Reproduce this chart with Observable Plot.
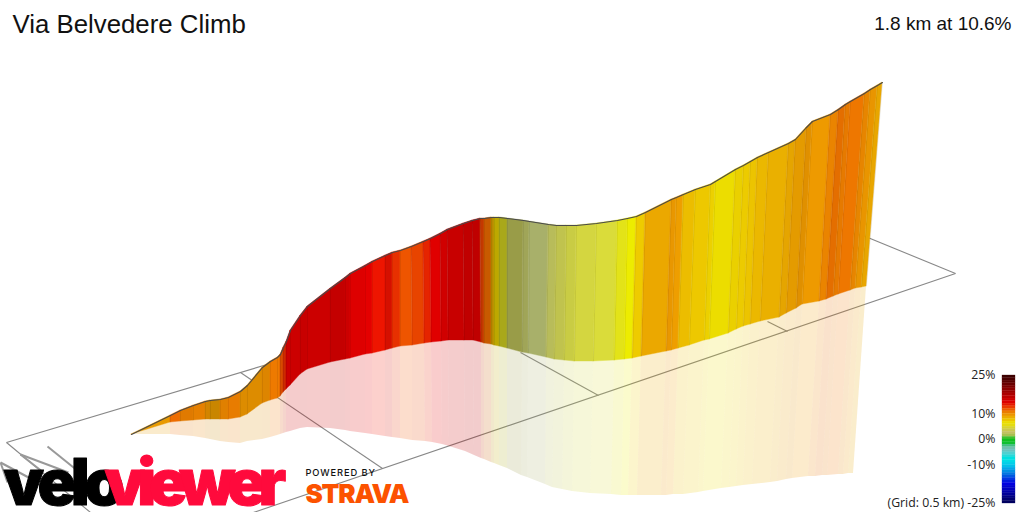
<!DOCTYPE html>
<html>
<head>
<meta charset="utf-8">
<script src="https://cdn.jsdelivr.net/npm/d3@7"></script>
<script src="https://cdn.jsdelivr.net/npm/@observablehq/plot@0.6"></script>
<style>
html,body{margin:0;padding:0;background:#fff;overflow:hidden}
.logo-a text{letter-spacing:-5.5px}
.logo-b text{letter-spacing:-7.6px}
.powered text{letter-spacing:0.9px}
.strava text{letter-spacing:-1.2px}
</style>
</head>
<body>
<div id="chart"></div>
<script>
const title = "Via Belvedere Climb";
const summary = "1.8 km at 10.6%";

// profile stations: ridge line, road foot, reflection foot
const topX = [131,170,180,193,205,210,220,228,240,247,262,270,277,280,283,286,290,300,307,330,345,350,365,372,385,392,400,411,423,430,440,447,463,472,480,484,491,494,499,507,523,529,548,556,566,576,596,617,627,636,645,671,676,683,695,710,715,735,743,750,757,768,788,795,806,812,830,838,845,850,864,870,877,882];
const topY = [434,415,410,405,401,400,399,397,391,385,367,361,357,354,347,341,330,315,306,288,277,273,265,261,255,252,250,246,241,238,233,229,223,220,218,218,217,217,217,218,220,221,224,225,225,225,223,220,218,216,212,199,197,194,189,184,181,169,165,161,157,152,143,139,127,121,114,109,104,101,93,89,85,82];
const baseX = [131,170,180,193,205,210,220,228,240,247,262,270,277,280,283,286,290,300,307,330,345,350,365,372,385,392,400,412,424,431,441,448,464,473,481,484,491,494,499,507,522,528,546,554,564,574,593,614,624,632,641,666,671,678,689,704,709,728,736,743,750,760,779,786,796,802,819,826,833,838,850,855,861,866];
const baseY = [434,422,421,420,419,419,419,419,417,414,403,400,398,396,392,389,385,374,369,362,359,358,354,353,350,348,346,345,343,342,341,340,340,340,342,343,344,345,346,348,352,353,357,359,360,361,361,360,359,358,356,351,350,348,345,340,339,333,329,326,324,321,317,313,308,304,301,299,296,294,290,288,287,286];
const reflX = [131,170,180,193,205,210,220,228,240,247,262,270,277,280,283,286,290,300,307,330,345,350,365,372,385,392,400,412,425,432,442,449,465,474,481,484,491,494,499,507,521,527,545,552,562,572,590,611,621,628,637,661,666,673,683,698,703,721,729,736,743,752,770,777,786,792,808,815,822,827,838,843,848,853];
const reflY = [434,434,435,436,438,439,441,442,443,441,439,437,435,434,433,432,431,428,427,428,430,431,433,434,436,437,438,440,441,442,444,446,451,455,458,459,462,463,465,468,475,477,484,487,489,491,493,494,495,495,495,495,495,494,494,492,491,488,487,486,485,484,482,481,479,478,476,476,475,475,474,474,473,473];
const bandColor = ["#e89b00","#ee6c00","#e07a00","#e68000","#d38400","#c98600","#e08000","#e87c00","#dd8c00","#dd8c00","#dd8500","#ee7a00","#ee7a00","#d74b00","#cc2a00","#cc0000","#cc0000","#c80000","#cc0000","#c40000","#cc0000","#de0000","#e40000","#ee1500","#d51000","#e73000","#ee5500","#e84400","#e52400","#e00000","#d00000","#c80000","#c00000","#bf0000","#c43800","#c85a00","#b88a00","#bda800","#a9a81a","#999c48","#a0a558","#a8b06a","#b8bc5a","#c0c34e","#c9cc44","#d4d640","#dadc3a","#e3e318","#edec00","#eecb00","#eba800","#e99700","#ee9e00","#ecbd00","#edc800","#ecd000","#ecdd00","#ead000","#eccb00","#ecc400","#ebb800","#eab000","#e5a500","#e49b00","#e09000","#ee9a00","#ea8400","#e46e00","#e67a00","#ee7700","#e78500","#e99500","#e8a600"];

// ground grid lines
const gridX1 = [6,6,955,955,240,520,767];
const gridY1 = [442,442,273,273,372,352,321];
const gridX2 = [270,90,860,250,382,598,787];
const gridY2 = [363,512,234,513,468,395,331];
const stubX1 = [47,20,20,0,0];
const stubY1 = [446,454,454,462,462];
const stubX2 = [83,68,43,30,7];
const stubY2 = [475,472,472,478,482];

// gradient legend, one cell per percent from 25 down to -24
const legendTop = 25;
const legendColor = ["#3c0000","#4a0000","#5a0000","#6a0000","#7c0000","#8c0000","#9c0000","#ac0000","#bc0000","#cc0000","#dc0000","#e41800","#ea3a00","#ec5c00","#ec7c00","#ec9400","#ecac00","#ecc400","#ecdc00","#e4dc10","#d8d430","#ccc850","#c4c060","#a8c050","#40c030","#10c020","#10c030","#40c080","#70c0b0","#68c4c0","#50d0d0","#28d8d8","#00e0e0","#00dce4","#00d0e8","#00c0e8","#00a8e8","#0090e4","#0078e0","#0058e0","#0038e0","#0018e0","#0000e0","#0000d0","#0000c0","#0000ac","#000098","#000084","#000070","#000060"];
const legendTicks = ["25%","10%","0%","-10%","(Grid: 0.5 km) -25%"];
const legendTickPct = [25,10,0,-10,-25];

const pctY = p => 439 - p * 2.56;
const stations = topX.map((x, i) => ({x, y: topY[i], bx: baseX[i], by: baseY[i], rx: reflX[i], ry: reflY[i]}));
const bands = bandColor.flatMap((c, i) => [
  {...stations[i], i, c},
  {...stations[i + 1], i, c}
]);
const grid = gridX1.map((x, i) => ({x1: x, y1: gridY1[i], x2: gridX2[i], y2: gridY2[i]}));
const stubs = stubX1.map((x, i) => ({x1: x, y1: stubY1[i], x2: stubX2[i], y2: stubY2[i]}));
const legend = legendColor.map((c, i) => ({y1: pctY(legendTop - i), y2: pctY(legendTop - i - 1), c}));
const ticks = legendTicks.map((t, i) => ({t, y: pctY(legendTickPct[i])}));

const sans = "Liberation Sans, Arial, sans-serif";
const heavy = "Inter, Roboto, sans-serif";

const chart = Plot.plot({
  width: 1024, height: 512,
  margin: 0,
  x: {domain: [0, 1024], range: [0, 1024], axis: null},
  y: {domain: [0, 512], range: [0, 512], axis: null},
  color: {type: "identity"},
  style: {background: "#fff"},
  marks: [
    Plot.link(grid, {x1: "x1", y1: "y1", x2: "x2", y2: "y2", stroke: "#888", strokeWidth: 1.1}),
    Plot.link(stubs, {x1: "x1", y1: "y1", x2: "x2", y2: "y2", stroke: "#999", strokeWidth: 2}),
    Plot.area(bands, {x1: "bx", y1: "by", x2: "rx", y2: "ry", z: "i", fill: "c", fillOpacity: 0.2}),
    Plot.area(bands, {x1: "x", y1: "y", x2: "bx", y2: "by", z: "i", fill: "c", stroke: "c", strokeWidth: 0.4}),
    Plot.link(stations, {x1: "x", y1: "y", x2: "bx", y2: "by", stroke: "#000", strokeOpacity: 0.07, strokeWidth: 1}),
    Plot.line(stations, {x: "x", y: "y", stroke: "#4a4a4a", strokeWidth: 1.1}),
    Plot.rect(legend, {x1: 1002, x2: 1015, y1: "y1", y2: "y2", fill: "c", stroke: "c", strokeWidth: 0.3}),
    Plot.text(ticks, {x: 995, y: "y", text: "t", textAnchor: "end", fontSize: 12.3, fontFamily: "Open Sans, sans-serif", fill: "#222"}),
    Plot.text([title], {x: 12, y: 24, text: d => d, textAnchor: "start", fontSize: 25.8, fontFamily: sans, fill: "#111"}),
    Plot.text([summary], {x: 1011, y: 23, text: d => d, textAnchor: "end", fontSize: 19, fontFamily: sans, fill: "#111"}),
    Plot.text(["velo"], {x: 3, y: 484, text: d => d, textAnchor: "start", fontSize: 64, fontWeight: 900, fontFamily: heavy, fill: "#000", stroke: "#000", strokeWidth: 1, className: "logo-a"}),
    Plot.text(["viewer"], {x: 104, y: 484, text: d => d, textAnchor: "start", fontSize: 64, fontWeight: 900, fontFamily: heavy, fill: "#ff0a3c", stroke: "#ff0a3c", strokeWidth: 1, className: "logo-b"}),
    Plot.text(["POWERED BY"], {x: 305, y: 473, text: d => d, textAnchor: "start", fontSize: 9.3, fontWeight: 500, fontFamily: heavy, fill: "#111", className: "powered"}),
    Plot.text(["STRAVA"], {x: 305, y: 494.5, text: d => d, textAnchor: "start", fontSize: 26, fontWeight: 900, fontFamily: heavy, fill: "#fc5200", className: "strava"})
  ]
});
document.getElementById("chart").appendChild(chart);
</script>
</body>
</html>
